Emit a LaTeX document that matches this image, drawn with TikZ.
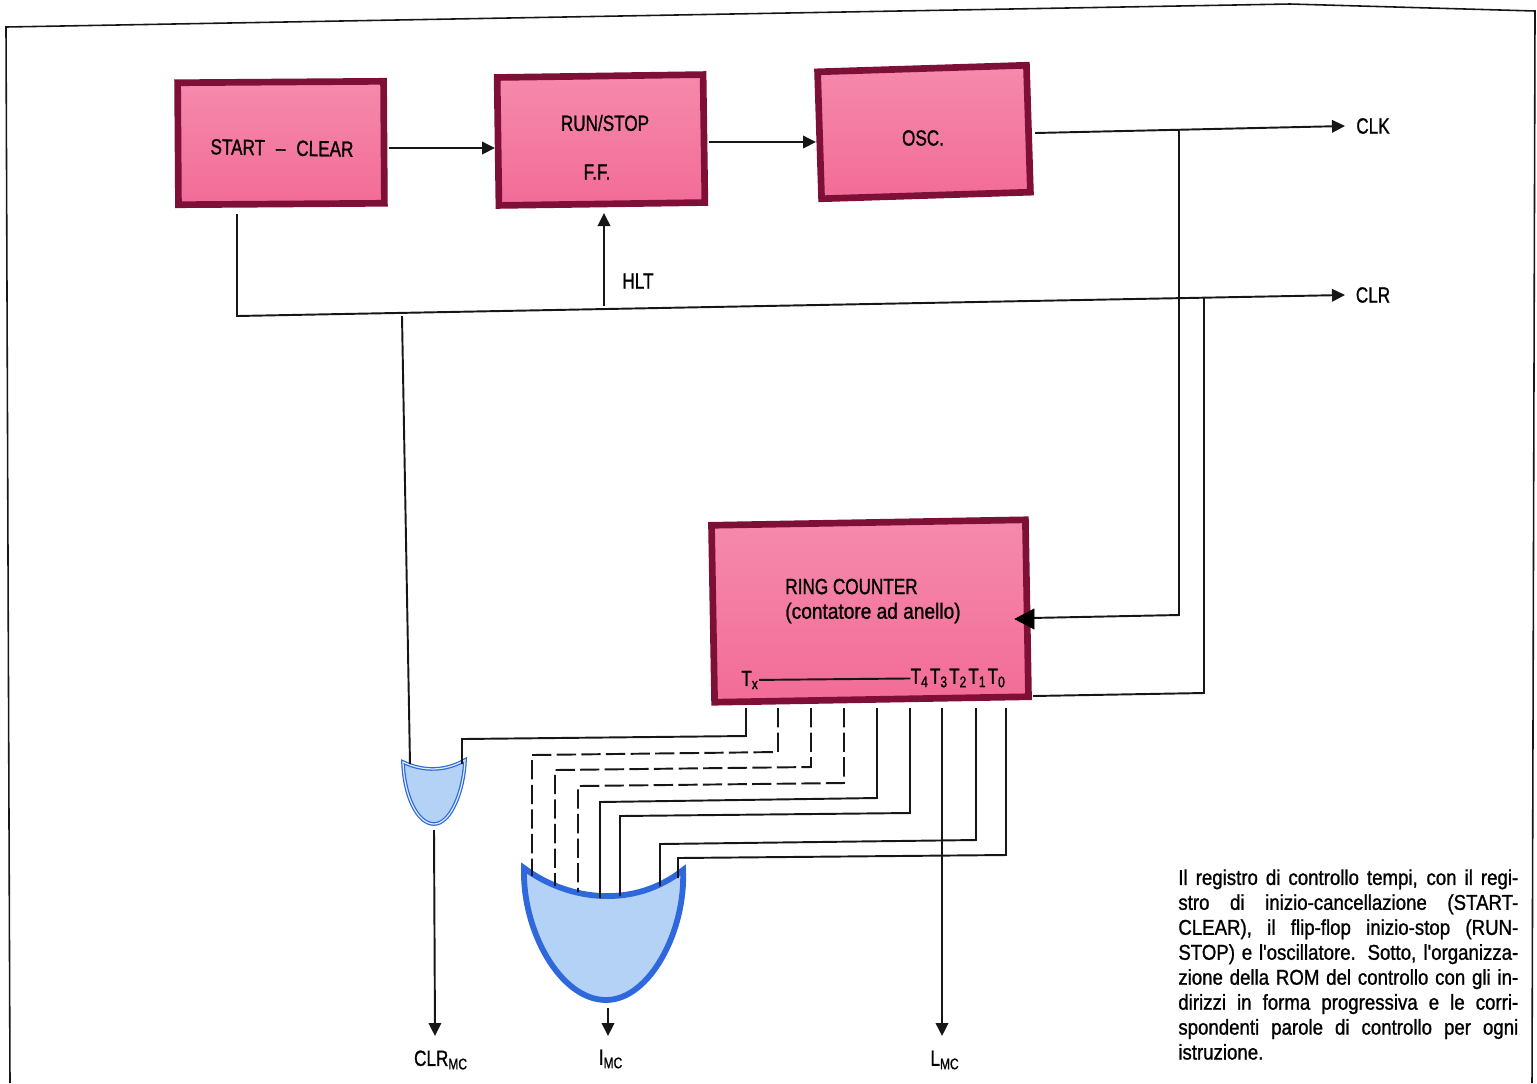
\documentclass[tikz,border=0pt]{standalone}
\usepackage{fontspec}
\setmainfont[FakeStretch=0.78,FakeBold=1.1]{Liberation Sans}
\newfontfamily\notefont[FakeStretch=0.87,FakeBold=1.1]{Liberation Sans}
\usetikzlibrary{arrows.meta}
\definecolor{blockrim}{HTML}{7E1038}
\definecolor{blocktop}{HTML}{F58AAC}
\definecolor{blockmid}{HTML}{EE5085}
\definecolor{blocklow}{HTML}{F26C97}
\definecolor{gatefill}{HTML}{B4D2F6}
\definecolor{gaterim}{HTML}{2F68DC}
\definecolor{inkline}{HTML}{161616}
\tikzset{
    block/.style={draw=blockrim, line width=3.8pt, top color=blocktop, middle color=blockmid, bottom color=blocklow, inner sep=0pt},
    wire/.style={draw=inkline, line width=1.1pt, -{Triangle[length=2.6mm,width=2.5mm]}},
    link/.style={draw=inkline, line width=1.1pt},
    dashlink/.style={link, dash pattern=on 11pt off 3pt},
    gate/.style={fill=gatefill, draw=gaterim},
    lbl/.style={font=\fontsize{12.5}{14}\selectfont, inner sep=0pt, text=black},
}
\begin{document}
\begin{tikzpicture}[x=0.02cm,y=-0.02cm]
    \useasboundingbox (0,0) rectangle (1537,1083);

    % Frame
    \draw[line width=0.9pt, inkline] (10,1083) -- (6,27) -- (1290,4) -- (1535,11) -- (1532,1083);

    % Blocks
    \node[block, rotate=0.4, minimum width=4.12cm, minimum height=2.44cm] (start) at (281,143) {};
    \node[block, rotate=0.8, minimum width=4.12cm, minimum height=2.56cm] (run) at (601,140) {};
    \node[block, rotate=1.8, minimum width=4.18cm, minimum height=2.54cm] (osc) at (924,132) {};
    \node[block, rotate=1, minimum width=6.28cm, minimum height=3.54cm] (ring) at (870,611) {};

    \node[lbl, rotate=-1] (starttxt) at (282,148) {START\; --\; CLEAR};
    \node[lbl] (runtxt) at (605,123) {RUN/STOP};
    \node[lbl] (fftxt) at (597,172) {F.F.};
    \node[lbl] (osctxt) at (923,138) {OSC.};
    \node[lbl, align=left, anchor=west] (ringtxt) at (785,601) {RING COUNTER\\{\notefont(contatore ad anello)}};
    \node[lbl, anchor=west] (tx) at (741,680) {T\textsubscript{x}};
    \node[lbl, anchor=east] (tn) at (1006,678) {T\textsubscript{4}\kern.7pt T\textsubscript{3}\kern.7pt T\textsubscript{2}\kern.7pt T\textsubscript{1}\kern.7pt T\textsubscript{0}};
    \draw[link] (tx) -- (tn);

    % Gates
    \coordinate (orl) at (403,762);
    \coordinate (orr) at (465,760);
    \coordinate (orb) at (434,824);
    \filldraw[gate, line width=0.7pt, double=gatefill!45!white, double distance=0.7pt] (orl) .. controls (424,772) and (446,771) .. (orr)
        .. controls (464,790) and (451,824) .. (orb)
        .. controls (417,824) and (404,795) .. (orl) -- cycle;
    \coordinate (bigl) at (524,868);
    \coordinate (bigr) at (683,870);
    \coordinate (bigb) at (606,1000);
    \filldraw[gate, line width=3.3pt] (bigl) .. controls (570,902) and (635,908) .. (bigr)
        .. controls (686,930) and (650,1000) .. (bigb)
        .. controls (560,1000) and (522,930) .. (bigl) -- cycle;

    % Free ends
    \coordinate (clk) at (1345,126);
    \coordinate (clr) at (1345,295);
    \coordinate (clrmc) at (435,1036);
    \coordinate (imc) at (608,1036);
    \coordinate (lmc) at (942,1036);
    \coordinate (clkj) at (1179,129);
    \coordinate (clrj) at (1204,298);
    \coordinate (orj) at (402,316);
    \coordinate (hltj) at (604,306);
    \coordinate (hltup) at (604,213);
    \coordinate (startout) at (389,148);
    \coordinate (runin) at (495,148);
    \coordinate (runout) at (709,142);
    \coordinate (oscin) at (816,142);
    \coordinate (oscout) at (1035,133);

    % Edges
    \draw[wire] (startout) -- (runin);
    \draw[wire] (runout) -- (oscin);
    \draw[wire] (oscout) -- (clk);
    \draw[wire] (237,214) -- (237,316) -- (clr);
    \draw[wire] (hltj) -- (hltup);
    \draw[link] (orj) -- (410,764);
    \draw[link] (clkj) -- (1179,615) -- (1030,618);
    \draw[draw=black, fill=black] (1034,609) -- (1034,629) -- (1015,619) -- cycle;
    \draw[link] (clrj) -- (1204,693) -- (1033,696);

    % Outputs of the counter
    \draw[link] (746,708) -- (746,736) -- (462,739) -- (462,764);
    \draw[dashlink] (778,708) -- (778,752) -- (532,755) -- (532,876);
    \draw[dashlink] (811,708) -- (811,767) -- (555,770) -- (555,886);
    \draw[dashlink] (844,708) -- (844,783) -- (578,786) -- (578,892);
    \draw[link] (877,708) -- (877,798) -- (600,802) -- (600,898);
    \draw[link] (910,708) -- (910,813) -- (620,816) -- (620,896);
    \draw[wire] (942,708) -- (lmc);
    \draw[link] (976,708) -- (976,840) -- (660,844) -- (660,886);
    \draw[link] (1006,708) -- (1006,855) -- (678,858) -- (678,878);

    \draw[wire] (434,830) -- (clrmc);
    \draw[wire] (608,1008) -- (imc);

    % Labels
    \node[lbl] (clktxt) at (1373,126) {CLK};
    \node[lbl] (clrtxt) at (1373,295) {CLR};
    \node[lbl] (hlttxt) at (638,281) {HLT};
    \node[lbl] (clrmctxt) at (441,1060) {CLR\textsubscript{MC}};
    \node[lbl] (imctxt) at (611,1059) {I\textsubscript{MC}};
    \node[lbl] (lmctxt) at (945,1060) {L\textsubscript{MC}};
    \node[anchor=north west, inner sep=0pt, text width=6.8cm, align=justify, font=\fontsize{12.2}{14.2}\notefont] (note) at (1178,869) {%
        Il registro di controllo tempi, con il regi-\linebreak
        stro di inizio-cancellazione (START-\linebreak
        CLEAR), il flip-flop inizio-stop (RUN-\linebreak
        STOP) e l'oscillatore. Sotto, l'organizza-\linebreak
        zione della ROM del controllo con gli in-\linebreak
        dirizzi in forma progressiva e le corri-\linebreak
        spondenti parole di controllo per ogni\linebreak
        istruzione.};
\end{tikzpicture}
\end{document}
